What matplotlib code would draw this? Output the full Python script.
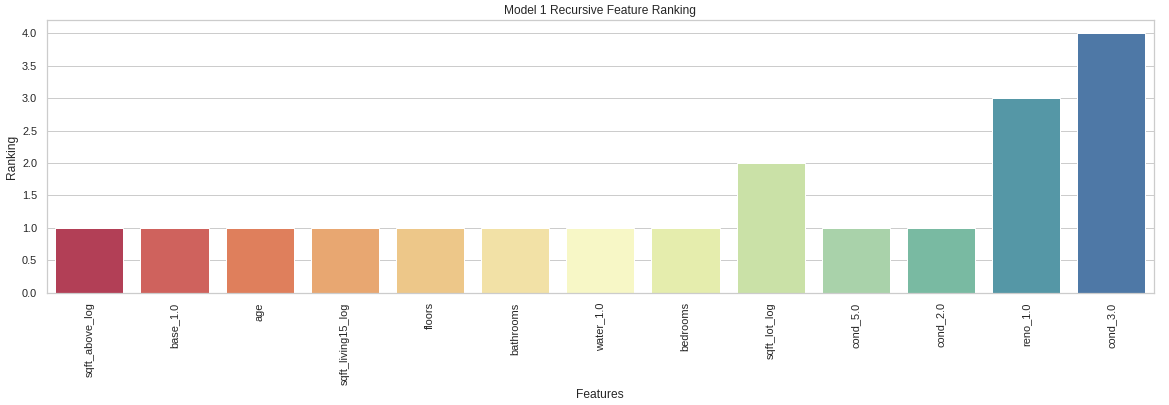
import numpy as np
import pandas as pd
import matplotlib
matplotlib.use("Agg")
import matplotlib.pyplot as plt
import seaborn as sns

features = ['sqft_above_log', 'base_1.0', 'age', 'sqft_living15_log', 'floors',
            'bathrooms', 'water_1.0', 'bedrooms', 'sqft_lot_log', 'cond_5.0',
            'cond_2.0', 'reno_1.0', 'cond_3.0']
ranking = [1, 1, 1, 1, 1, 1, 1, 1, 2, 1, 1, 3, 4]

sns.set_theme(style="whitegrid")
plt.rcParams['font.family'] = ['Liberation Sans', 'DejaVu Sans']

df = pd.DataFrame({'Features': features, 'Ranking': ranking})

fig, ax = plt.subplots(figsize=(1169 / 72, 405 / 72), dpi=72)
fig.subplots_adjust(left=0.04, right=0.987, top=0.95, bottom=0.277)
sns.barplot(data=df, x='Features', y='Ranking', hue='Features', palette='Spectral',
            legend=False, ax=ax)
ax.set_title('Model 1 Recursive Feature Ranking', fontsize=12)
ax.set_xlabel('Features', fontsize=12, labelpad=4)
ax.set_ylabel('Ranking', fontsize=12)
ax.set_yticks(np.arange(0, 4.01, 0.5))
ax.tick_params(axis='x', rotation=90, labelsize=11)
ax.tick_params(axis='y', labelsize=11)
fig.savefig('out.png', dpi=72)
